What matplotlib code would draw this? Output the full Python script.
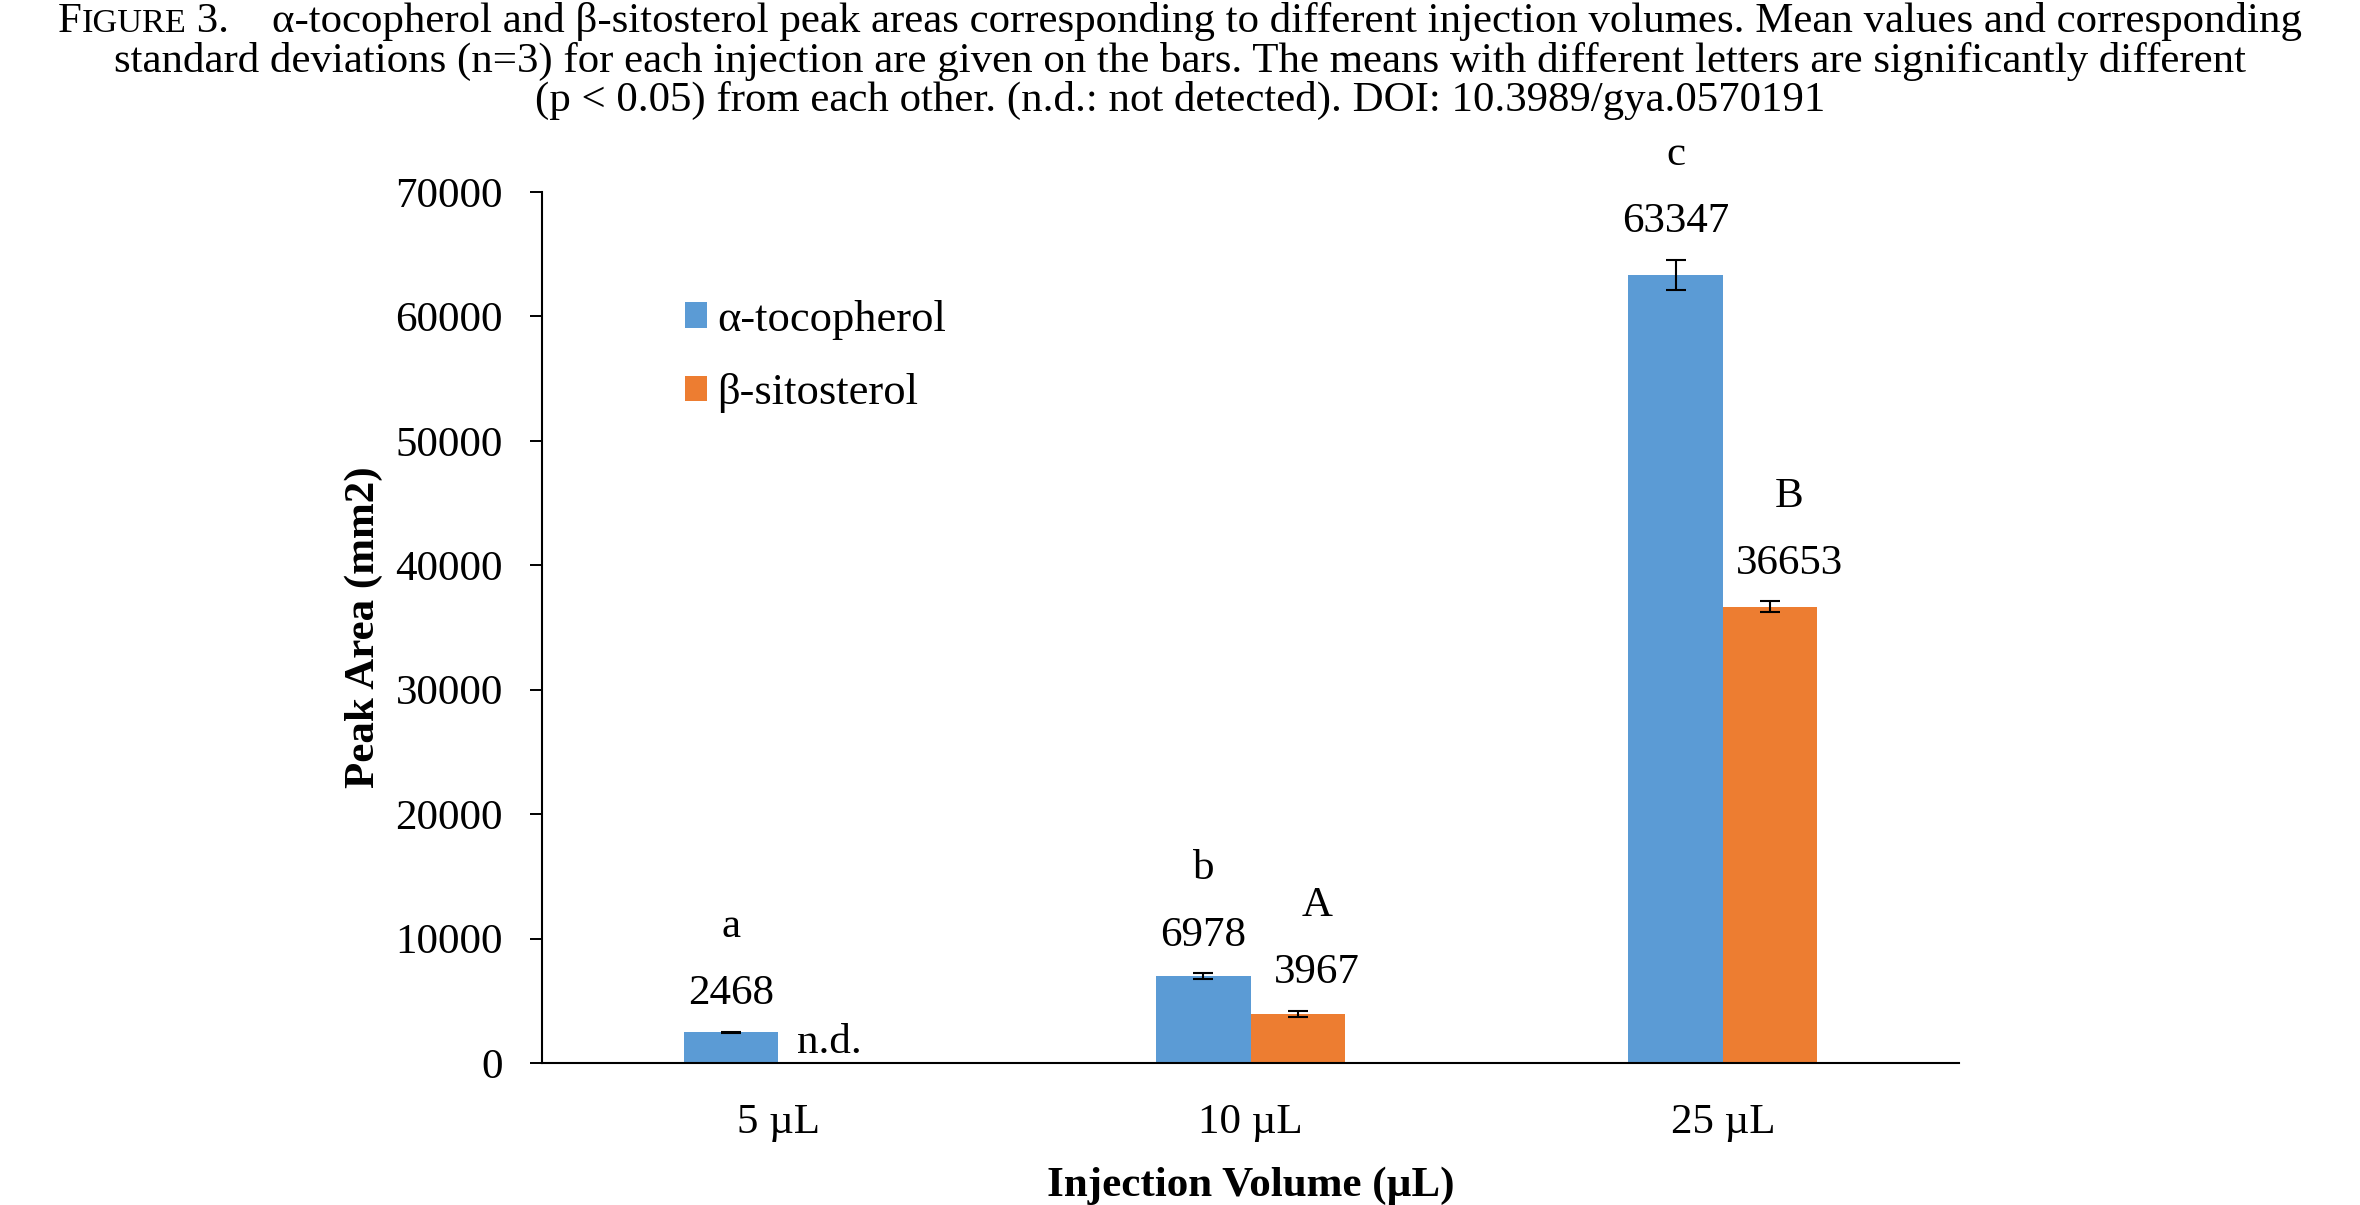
import matplotlib
matplotlib.use("Agg")
import matplotlib.pyplot as plt
import numpy as np

plt.rcParams["font.family"] = ["Liberation Serif", "DejaVu Serif"]

# ---------------------------------------------------------------------------
# Data
# ---------------------------------------------------------------------------
volumes      = ["5 µL", "10 µL", "25 µL"]
toco_mean    = [2468, 6978, 63347]
toco_sd      = [50, 230, 1200]
toco_letters = ["a", "b", "c"]
sito_mean    = [np.nan, 3967, 36653]     # 5 µL: not detected
sito_sd      = [np.nan, 230, 440]
sito_letters = ["", "A", "B"]

title_lines = [
    [("F", 30.9), ("IGURE", 24.7),
     (" 3.    α-tocopherol and β-sitosterol peak areas corresponding to different "
      "injection volumes. Mean values and corresponding", 30.9)],
    [("standard deviations (n=3) for each injection are given on the bars. "
      "The means with different letters are significantly different", 30.9)],
    [("(p < 0.05) from each other. (n.d.: not detected). DOI: 10.3989/gya.0570191", 30.9)],
]

C_TOCO = "#5B9BD5"
C_SITO = "#ED7D31"
W, H   = 2360, 1205
FS     = 31
BAR_W  = 0.2

fig = plt.figure(figsize=(W / 100, H / 100), dpi=100)
ax = fig.add_axes([542 / W, 1 - 1063 / H, (1959 - 542) / W, (1063 - 192) / H])

x = np.arange(len(volumes))
ax.bar(x - BAR_W / 2, toco_mean, BAR_W, color=C_TOCO, label="α-tocopherol")
ax.bar(x + BAR_W / 2, sito_mean, BAR_W, color=C_SITO, label="β-sitosterol")
ekw = dict(fmt="none", ecolor="black", elinewidth=1.5, capsize=7.2, capthick=1.5)
ax.errorbar(x - BAR_W / 2, toco_mean, yerr=toco_sd, **ekw)
ax.errorbar(x + BAR_W / 2, sito_mean, yerr=sito_sd, **ekw)

def label_bars(xs, means, sds, letters, dx):
    for xi, m, s, let in zip(xs, means, sds, letters):
        if np.isnan(m):
            ax.annotate("n.d.", (xi, 0), xytext=(3, 7), textcoords="offset points",
                        ha="center", va="baseline", fontsize=FS)
            continue
        ax.annotate(f"{m}", (xi, m + s), xytext=(dx, 20), textcoords="offset points",
                    ha="center", va="baseline", fontsize=FS)
        ax.annotate(let, (xi, m + s), xytext=(dx, 68), textcoords="offset points",
                    ha="center", va="baseline", fontsize=FS)

label_bars(x - BAR_W / 2, toco_mean, toco_sd, toco_letters, 0)
label_bars(x + BAR_W / 2, sito_mean, sito_sd, sito_letters, 14)

ax.set_xlim(-0.5, 2.5)
ax.set_ylim(0, 70000)
ax.set_yticks(np.arange(0, 70001, 10000))
ax.set_xticks(x)
ax.set_xticklabels(volumes)
ax.tick_params(axis="y", length=8.6, width=1.4, pad=19.5, labelsize=FS, direction="out")
ax.tick_params(axis="x", length=0, pad=29, labelsize=FS)
for side in ("top", "right"):
    ax.spines[side].set_visible(False)
for side in ("left", "bottom"):
    ax.spines[side].set_linewidth(1.5)

ax.set_ylabel("Peak Area (mm2)", fontsize=FS, fontweight="bold", labelpad=9)
ax.set_xlabel("Injection Volume (µL)", fontsize=FS, fontweight="bold", labelpad=18)

ax.legend(loc="center left", bbox_to_anchor=(0.101, 0.811), frameon=False,
          fontsize=FS + 1, borderpad=0, borderaxespad=0, handlelength=0.5,
          handleheight=0.52, handletextpad=0.22, labelspacing=0.75)

# title: centred lines, with small caps for "Figure"
fig.canvas.draw()
rend = fig.canvas.get_renderer()
baselines = [32, 72, 111]
for pieces, yb in zip(title_lines, baselines):
    texts = [fig.text(0, 1 - yb / H, s, fontsize=fs, ha="left", va="baseline")
             for s, fs in pieces]
    widths = [t.get_window_extent(rend).width for t in texts]
    xpos = W / 2 - sum(widths) / 2
    for t, w in zip(texts, widths):
        t.set_x(xpos / W)
        xpos += w

fig.savefig("out.png", dpi=100)
